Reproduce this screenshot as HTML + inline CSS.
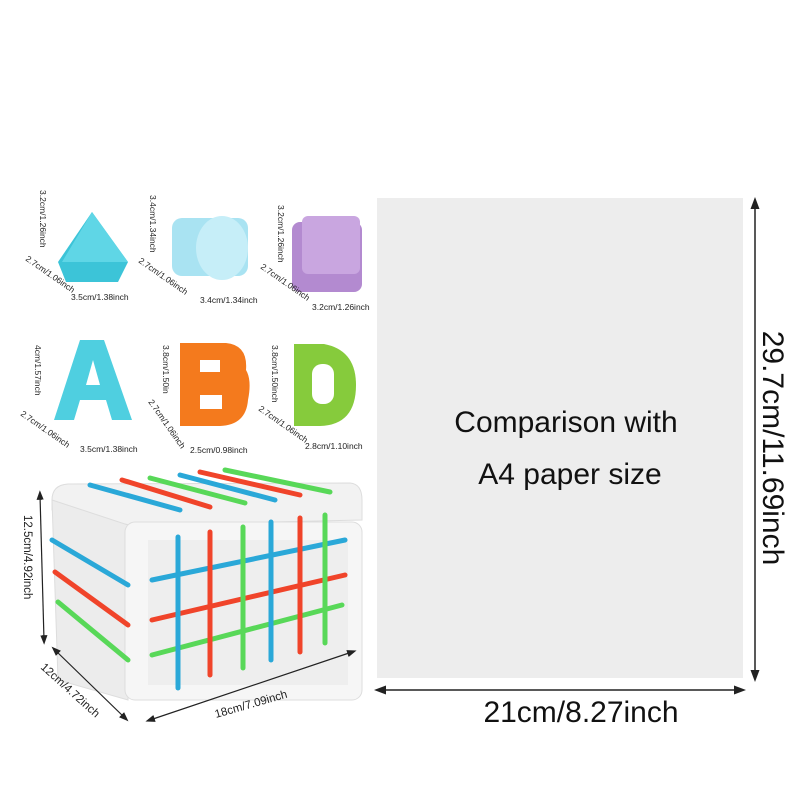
<!DOCTYPE html>
<html><head><style>
body{margin:0;width:800px;height:800px;background:#fff;overflow:hidden;font-family:"Liberation Sans",Arial,sans-serif}
</style></head><body>
<svg width="800" height="800" viewBox="0 0 800 800" xmlns="http://www.w3.org/2000/svg" font-family="Liberation Sans, Arial, sans-serif">
<defs>
<marker id="a" markerWidth="8" markerHeight="8" refX="4" refY="4" orient="auto-start-reverse"><path d="M0,1 L8,4 L0,7 Z" fill="#222"/></marker>
</defs>
<!-- paper -->
<rect x="377" y="198" width="366" height="480" fill="#ededed"/>
<text x="566" y="432" font-size="30" text-anchor="middle" fill="#111">Comparison with</text>
<text x="570" y="484" font-size="30" text-anchor="middle" fill="#111">A4 paper size</text>
<line x1="755" y1="203" x2="755" y2="676" stroke="#222" stroke-width="1.5" marker-start="url(#a)" marker-end="url(#a)"/>
<text transform="translate(763,448) rotate(90)" font-size="30" text-anchor="middle" fill="#111">29.7cm/11.69inch</text>
<line x1="380" y1="690" x2="740" y2="690" stroke="#222" stroke-width="1.5" marker-start="url(#a)" marker-end="url(#a)"/>
<text x="581" y="722" font-size="30" text-anchor="middle" fill="#111">21cm/8.27inch</text>

<!-- triangle -->
<path d="M92,212 L128,262 L118,282 L66,282 L58,262 Z" fill="#3cc4d8"/>
<path d="M92,212 L128,262 L62,262 Z" fill="#5fd6e6"/>
<!-- cylinder -->
<rect x="172" y="218" width="76" height="58" rx="10" fill="#a9e3f2"/>
<ellipse cx="222" cy="248" rx="26" ry="32" fill="#c6eef8"/>
<!-- purple cube -->
<rect x="292" y="222" width="70" height="70" rx="8" fill="#b38ad0"/>
<rect x="302" y="216" width="58" height="58" rx="6" fill="#c9a6e0"/>
<!-- A -->
<path d="M80,340 L104,340 L132,420 L112,420 L106,400 L80,400 L74,420 L54,420 Z" fill="#4fcfe0"/>
<path d="M86,385 L100,385 L93,360 Z" fill="#fff"/>
<!-- B -->
<path d="M180,343 L226,343 Q248,345 246,370 Q252,380 248,400 Q246,425 220,426 L180,426 Z" fill="#f47a1d"/>
<rect x="200" y="360" width="20" height="12" fill="#fff"/><rect x="200" y="395" width="22" height="14" fill="#fff"/>
<!-- D -->
<path d="M294,344 L324,344 Q356,350 356,385 Q356,425 320,426 L294,426 Z" fill="#86cb3c"/>
<rect x="312" y="364" width="22" height="40" rx="10" fill="#fff"/>

<g font-size="8.5" fill="#222">
<text x="71" y="300">3.5cm/1.38inch</text>
<text x="200" y="303">3.4cm/1.34inch</text>
<text x="312" y="310">3.2cm/1.26inch</text>
<text x="80" y="452">3.5cm/1.38inch</text>
<text x="190" y="453">2.5cm/0.98inch</text>
<text x="305" y="449">2.8cm/1.10inch</text>
<text transform="translate(40,190) rotate(90)">3.2cm/1.26inch</text>
<text transform="translate(150,195) rotate(90)">3.4cm/1.34inch</text>
<text transform="translate(278,205) rotate(90)">3.2cm/1.26inch</text>
<text transform="translate(35,345) rotate(90)">4cm/1.57inch</text>
<text transform="translate(163,345) rotate(90)">3.8cm/1.50in</text>
<text transform="translate(272,345) rotate(90)">3.8cm/1.50inch</text>
<text transform="translate(25,260) rotate(35)">2.7cm/1.06inch</text>
<text transform="translate(138,262) rotate(35)">2.7cm/1.06inch</text>
<text transform="translate(260,268) rotate(35)">2.7cm/1.06inch</text>
<text transform="translate(20,415) rotate(35)">2.7cm/1.06inch</text>
<text transform="translate(148,402) rotate(55)">2.7cm/1.06inch</text>
<text transform="translate(258,410) rotate(35)">2.7cm/1.06inch</text>
</g>

<!-- cube toy -->
<g>
<path d="M52,500 Q52,485 68,484 L350,483 Q362,484 362,500 L362,520 L130,525 L52,510 Z" fill="#f2f2f2" stroke="#ddd"/>
<path d="M52,500 L128,525 L128,700 L58,680 Z" fill="#ececec" stroke="#ddd"/>
<rect x="125" y="522" width="237" height="178" rx="10" fill="#f6f6f6" stroke="#ddd"/>
<rect x="148" y="540" width="200" height="145" fill="#eeeeee"/>
<g stroke-width="5" stroke-linecap="round">
<line x1="90" y1="485" x2="180" y2="510" stroke="#2aa8d8"/>
<line x1="122" y1="480" x2="210" y2="507" stroke="#f0442a"/>
<line x1="150" y1="478" x2="245" y2="503" stroke="#58d858"/>
<line x1="180" y1="475" x2="275" y2="500" stroke="#2aa8d8"/>
<line x1="200" y1="472" x2="300" y2="495" stroke="#f0442a"/>
<line x1="225" y1="470" x2="330" y2="492" stroke="#58d858"/>
<line x1="52" y1="540" x2="128" y2="585" stroke="#2aa8d8"/>
<line x1="55" y1="572" x2="128" y2="625" stroke="#f0442a"/>
<line x1="58" y1="602" x2="128" y2="660" stroke="#58d858"/>
<line x1="152" y1="580" x2="345" y2="540" stroke="#2aa8d8"/>
<line x1="152" y1="620" x2="345" y2="575" stroke="#f0442a"/>
<line x1="152" y1="655" x2="342" y2="605" stroke="#58d858"/>
<line x1="178" y1="537" x2="178" y2="688" stroke="#2aa8d8"/>
<line x1="210" y1="532" x2="210" y2="675" stroke="#f0442a"/>
<line x1="243" y1="527" x2="243" y2="668" stroke="#58d858"/>
<line x1="271" y1="522" x2="271" y2="660" stroke="#2aa8d8"/>
<line x1="300" y1="518" x2="300" y2="652" stroke="#f0442a"/>
<line x1="325" y1="515" x2="325" y2="643" stroke="#58d858"/>
</g>
</g>
<line x1="40" y1="495" x2="44" y2="640" stroke="#222" stroke-width="1.2" marker-start="url(#a)" marker-end="url(#a)"/>
<line x1="55" y1="650" x2="125" y2="718" stroke="#222" stroke-width="1.2" marker-start="url(#a)" marker-end="url(#a)"/>
<line x1="150" y1="720" x2="352" y2="652" stroke="#222" stroke-width="1.2" marker-start="url(#a)" marker-end="url(#a)"/>
<g font-size="11.5" fill="#222">
<text transform="translate(24,515) rotate(90)">12.5cm/4.92inch</text>
<text transform="translate(40,668) rotate(42)">12cm/4.72inch</text>
<text transform="translate(216,718) rotate(-16)">18cm/7.09inch</text>
</g>
</svg>
</body></html>
